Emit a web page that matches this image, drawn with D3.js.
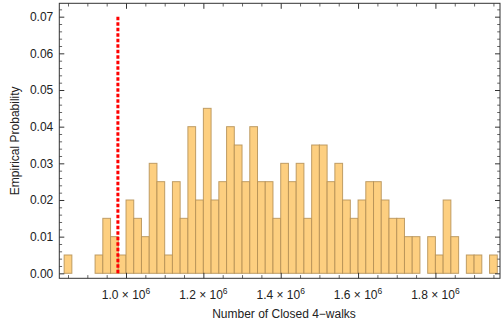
<!DOCTYPE html>
<html>
<head>
<meta charset="utf-8">
<script src="https://cdn.jsdelivr.net/npm/d3@7"></script>
<style>
  html, body { margin: 0; padding: 0; background: #fff; }
  svg { display: block; font-family: "Liberation Sans", Arial, sans-serif; }
</style>
</head>
<body>
<svg id="chart" width="502" height="329"></svg>
<script>
// Histogram bins: lower edge of each bin (bin width 20,000) and its probability
const binStarts = d3.range(56).map(i => 840000 + i * 20000);
const probabilities = [
  0.005, 0, 0, 0, 0.005, 0.015, 0.01, 0.005, 0.02, 0.015,
  0.01, 0.03, 0.025, 0.005, 0.025, 0.015, 0.04, 0.02, 0.045, 0.02,
  0.025, 0.04, 0.035, 0.025, 0.04, 0.025, 0.025, 0.015, 0.03, 0.025,
  0.03, 0.015, 0.035, 0.035, 0.025, 0.03, 0.02, 0.015, 0.02, 0.025,
  0.025, 0.02, 0.015, 0.015, 0.01, 0.01, 0, 0.01, 0.005, 0.02,
  0.01, 0, 0.005, 0.005, 0, 0.005
];
const binWidth = 20000;
const observedValue = 979000;      // reference marker (red dashed line)
const markerTop = 0.07;

const xMajorTicks = [1000000, 1200000, 1400000, 1600000, 1800000];
const xMajorLabels = ["1.0", "1.2", "1.4", "1.6", "1.8"];
const yMajorTicks = [0, 0.01, 0.02, 0.03, 0.04, 0.05, 0.06, 0.07];
const yMajorLabels = ["0.00", "0.01", "0.02", "0.03", "0.04", "0.05", "0.06", "0.07"];

(function draw() {
  const bins = binStarts.map((x0, i) => ({ x0, x1: x0 + binWidth, p: probabilities[i] }))
    .filter(d => d.p > 0);

  const svg = d3.select("#chart");
  const plotLeft = 59.3, plotRight = 500, plotTop = 3.3, plotBottom = 278.3;

  const x = d3.scaleLinear().domain([827500, 1967000]).range([plotLeft, plotRight]);
  const y = d3.scaleLinear().domain([-0.00136, 0.07365]).range([plotBottom, plotTop]);

  // minor tick positions
  const xMinor = d3.range(850000, 1967000, 50000).filter(v => !xMajorTicks.includes(v));
  const yMinor = d3.range(0, 0.0736, 0.002).map(v => +v.toFixed(3))
    .filter(v => !yMajorTicks.some(t => Math.abs(t - v) < 1e-9));

  // bars
  svg.append("g")
    .selectAll("rect")
    .data(bins)
    .join("rect")
    .attr("x", d => x(d.x0))
    .attr("width", d => x(d.x1) - x(d.x0))
    .attr("y", d => y(d.p))
    .attr("height", d => y(0) - y(d.p))
    .attr("fill", "#fdcf80")
    .attr("stroke", "#b48f55")
    .attr("stroke-opacity", 0.85)
    .attr("stroke-width", 1);

  // marker line
  svg.append("line")
    .attr("x1", x(observedValue)).attr("x2", x(observedValue))
    .attr("y1", y(0)).attr("y2", y(markerTop))
    .attr("stroke", "#ff0000")
    .attr("stroke-width", 3)
    .attr("stroke-dasharray", "3.5,2");

  // frame axes with inward ticks
  function styleAxis(g, color) {
    g.select(".domain").remove();
    g.selectAll(".tick line").attr("stroke", color);
    g.selectAll(".tick text").remove();
  }
  const axes = [
    [d3.axisBottom(x).tickValues(xMajorTicks).tickSize(-5.5), `translate(0,${plotBottom})`, "#333"],
    [d3.axisBottom(x).tickValues(xMinor).tickSize(-3.2), `translate(0,${plotBottom})`, "#666"],
    [d3.axisTop(x).tickValues(xMajorTicks).tickSize(-5.5), `translate(0,${plotTop})`, "#333"],
    [d3.axisTop(x).tickValues(xMinor).tickSize(-3.2), `translate(0,${plotTop})`, "#666"],
    [d3.axisLeft(y).tickValues(yMajorTicks).tickSize(-5), `translate(${plotLeft},0)`, "#333"],
    [d3.axisLeft(y).tickValues(yMinor).tickSize(-2.8), `translate(${plotLeft},0)`, "#666"],
    [d3.axisRight(y).tickValues(yMajorTicks).tickSize(-5), `translate(${plotRight},0)`, "#333"],
    [d3.axisRight(y).tickValues(yMinor).tickSize(-2.8), `translate(${plotRight},0)`, "#666"]
  ];
  axes.forEach(([ax, tr, color]) => {
    svg.append("g").attr("transform", tr).call(ax).call(g => styleAxis(g, color));
  });

  svg.append("rect")
    .attr("x", plotLeft).attr("y", plotTop)
    .attr("width", plotRight - plotLeft).attr("height", plotBottom - plotTop)
    .attr("fill", "none").attr("stroke", "#333").attr("stroke-width", 1);

  // y tick labels
  svg.append("g").selectAll("text")
    .data(yMajorTicks)
    .join("text")
    .attr("x", plotLeft - 6)
    .attr("y", d => y(d))
    .attr("dy", "0.36em")
    .attr("text-anchor", "end")
    .attr("font-size", 12)
    .attr("fill", "#222")
    .text((d, i) => yMajorLabels[i]);

  // x tick labels: "m × 10^6"
  const xl = svg.append("g").selectAll("text")
    .data(xMajorTicks)
    .join("text")
    .attr("x", d => x(d))
    .attr("y", 298.5)
    .attr("text-anchor", "middle")
    .attr("font-size", 12)
    .attr("fill", "#222");
  xl.append("tspan").text((d, i) => xMajorLabels[i] + " \u00d7 10");
  xl.append("tspan").attr("dy", -5).attr("font-size", 8.5).text("6");

  // axis titles
  svg.append("text")
    .attr("x", 284)
    .attr("y", 318)
    .attr("text-anchor", "middle")
    .attr("font-size", 12)
    .attr("fill", "#222")
    .text("Number of Closed 4\u2212walks");

  svg.append("text")
    .attr("transform", `translate(18.8,${(plotTop + plotBottom) / 2}) rotate(-90)`)
    .attr("text-anchor", "middle")
    .attr("font-size", 12)
    .attr("fill", "#222")
    .text("Empirical Probability");
})();
</script>
</body>
</html>
